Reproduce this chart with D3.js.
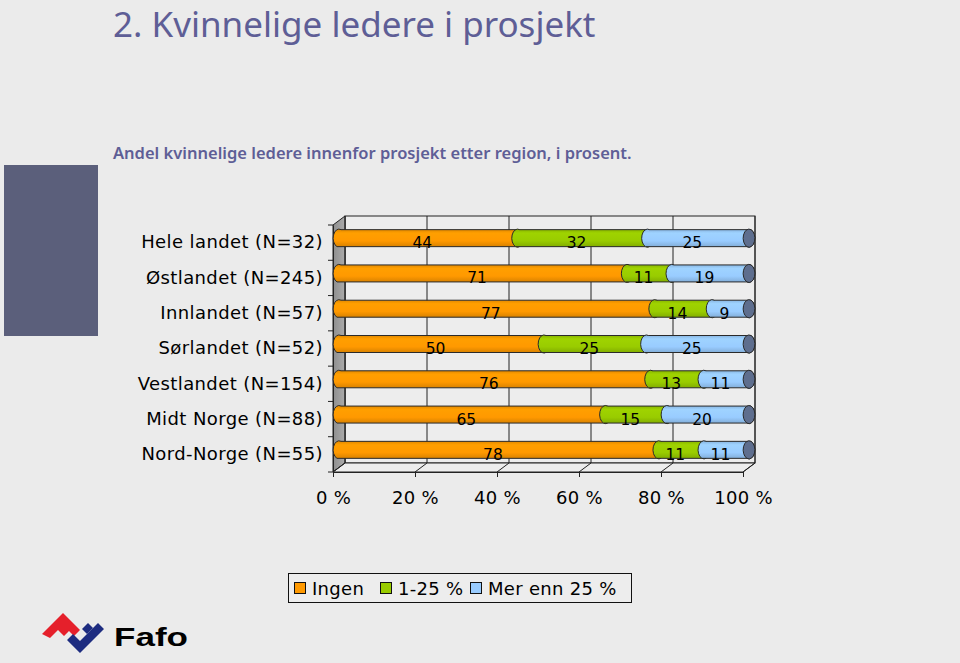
<!DOCTYPE html>
<html>
<head>
<meta charset="utf-8">
<script src="https://cdn.jsdelivr.net/npm/d3@7"></script>
<style>
  html, body { margin: 0; padding: 0; background: #EBEBEB; }
  svg { display: block; }
</style>
</head>
<body>
<svg id="chart" width="960" height="663"></svg>
<script>
// ---- data ----
const categories = ["Hele landet (N=32)", "Østlandet (N=245)", "Innlandet (N=57)", "Sørlandet (N=52)", "Vestlandet (N=154)", "Midt Norge (N=88)", "Nord-Norge (N=55)"];
const seriesNames = ["Ingen", "1-25 %", "Mer enn 25 %"];
const ingen = [44, 71, 77, 50, 76, 65, 78];
const lav = [32, 11, 14, 25, 13, 15, 11];
const hoy = [25, 19, 9, 25, 11, 20, 11];
const tickValues = [0, 20, 40, 60, 80, 100];
const tickLabels = ["0 %", "20 %", "40 %", "60 %", "80 %", "100 %"];
const colors = ["#FF9900", "#99CC00", "#99CCFF"];

const svg = d3.select("#chart");
const W = 960, H = 663;
const defs = svg.append("defs");

// background & decorations
svg.append("rect").attr("width", W).attr("height", H).attr("fill", "#EBEBEB");
svg.append("rect").attr("x", 4).attr("y", 165).attr("width", 94).attr("height", 171).attr("fill", "#5B5F7B");

// titles
svg.append("text").attr("x", 113).attr("y", 37)
  .attr("font-family", "'Noto Sans', 'Open Sans', sans-serif").attr("font-size", 35)
  .attr("fill", "#5E5E96").text("2. Kvinnelige ledere i prosjekt");
svg.append("text").attr("x", 113).attr("y", 159)
  .attr("font-family", "'Noto Sans', 'Open Sans', sans-serif").attr("font-size", 16.5).attr("font-weight", 600)
  .attr("fill", "#5E5E96").text("Andel kvinnelige ledere innenfor prosjekt etter region, i prosent.");

// ---- scales ----
const x = d3.scaleLinear().domain([0, 100]).range([333, 743]);
const y = d3.scaleBand().domain(categories).range([225, 472]).padding(0);
const dx = 12, dy = -9;
const x0 = x(0), x1 = x(100), yTop = y.range()[0], yBot = y.range()[1];

const g = svg.append("g");
// back wall
g.append("rect").attr("x", x0 + dx).attr("y", yTop + dy).attr("width", x1 - x0).attr("height", yBot - yTop)
  .attr("fill", "#EDEDED").attr("stroke", "#222").attr("stroke-width", 1);
// side wall
const sideGrad = defs.append("linearGradient").attr("id", "side").attr("x1", 0).attr("x2", 1);
sideGrad.append("stop").attr("offset", 0).attr("stop-color", "#8E8E8E");
sideGrad.append("stop").attr("offset", 1).attr("stop-color", "#ABABAB");
g.append("path").attr("d", `M${x0},${yTop} L${x0 + dx},${yTop + dy} L${x0 + dx},${yBot + dy} L${x0},${yBot} Z`)
  .attr("fill", "url(#side)").attr("stroke", "#222").attr("stroke-width", 1);
// floor
g.append("path").attr("d", `M${x0},${yBot} L${x0 + dx},${yBot + dy} L${x1 + dx},${yBot + dy} L${x1},${yBot} Z`)
  .attr("fill", "#EDEDED").attr("stroke", "#222").attr("stroke-width", 1);
// gridlines on back wall and floor
tickValues.forEach(v => {
  g.append("line").attr("x1", x(v) + dx).attr("x2", x(v) + dx).attr("y1", yTop + dy).attr("y2", yBot + dy)
    .attr("stroke", "#222").attr("stroke-width", 1);
  g.append("line").attr("x1", x(v)).attr("x2", x(v) + dx).attr("y1", yBot).attr("y2", yBot + dy)
    .attr("stroke", "#222").attr("stroke-width", 1);
});

// x axis
const xAxis = d3.axisBottom(x).tickValues(tickValues).tickFormat((d, i) => tickLabels[i]).tickSize(5).tickPadding(14);
const xa = svg.append("g").attr("transform", `translate(0,${yBot})`).call(xAxis);
xa.select(".domain").attr("stroke", "#222");
xa.selectAll(".tick line").attr("stroke", "#222");
xa.selectAll(".tick text").attr("font-family", "'DejaVu Sans', Verdana, sans-serif").attr("font-size", 18)
  .attr("letter-spacing", 0.3).attr("fill", "#000");

// y axis (labels)
const yAxis = d3.axisLeft(y).tickSize(0).tickPadding(10);
const ya = svg.append("g").attr("transform", `translate(${x0},0)`).call(yAxis);
ya.select(".domain").attr("stroke", "#222");
ya.selectAll(".tick text").attr("font-family", "'DejaVu Sans', Verdana, sans-serif").attr("font-size", 18)
  .attr("letter-spacing", 0.4).attr("fill", "#000");
// boundary ticks
const bounds = categories.map(c => y(c)).concat([yBot]);
svg.append("g").selectAll("line").data(bounds).join("line")
  .attr("x1", x0 - 5).attr("x2", x0).attr("y1", d => d).attr("y2", d => d)
  .attr("stroke", "#222");

// gradients for cylinders
colors.forEach((c, i) => {
  const gr = defs.append("linearGradient").attr("id", "cyl" + i).attr("x1", 0).attr("x2", 0).attr("y1", 0).attr("y2", 1);
  gr.append("stop").attr("offset", 0).attr("stop-color", d3.color(c).darker(0.4));
  gr.append("stop").attr("offset", 0.22).attr("stop-color", d3.color(c).brighter(0.1));
  gr.append("stop").attr("offset", 0.65).attr("stop-color", c);
  gr.append("stop").attr("offset", 1).attr("stop-color", d3.color(c).darker(0.5));
});

// bars
const rows = categories.map((c, i) => {
  const vals = [ingen[i], lav[i], hoy[i]];
  const tot = d3.sum(vals);
  let acc = 0;
  return vals.map((v, k) => {
    const s = acc / tot * 100; acc += v;
    const e = acc / tot * 100;
    return { cat: c, k, v, s, e };
  });
});
const rx = 5.5, ry = 8.5, sk = 2;
const barG = svg.append("g");
rows.forEach(segs => {
  const cy = y(segs[0].cat) + y.bandwidth() / 2 + dy / 2;
  const top = cy - ry, bot = cy + ry;
  segs.forEach(sg => {
    const a = x(sg.s) + dx / 2, b = x(sg.e) + dx / 2;
    const d = `M${a + sk},${top} L${b + sk},${top} A${rx},${ry} 0 0 1 ${b - sk},${bot} L${a - sk},${bot} A${rx},${ry} 0 0 1 ${a + sk},${top} Z`;
    barG.append("path").attr("d", d).attr("fill", `url(#cyl${sg.k})`).attr("stroke", "#2a2a2a").attr("stroke-width", 1);
  });
  const last = segs[segs.length - 1];
  const b = x(last.e) + dx / 2;
  barG.append("path")
    .attr("d", `M${b + sk},${top} A${rx},${ry} 0 0 1 ${b - sk},${bot} A${rx},${ry} 0 0 1 ${b + sk},${top} Z`)
    .attr("fill", "#5E6E8E").attr("stroke", "#2a2a2a").attr("stroke-width", 1);
});
// value labels
rows.forEach(segs => {
  const cyF = y(segs[0].cat) + y.bandwidth() / 2;
  segs.forEach(sg => {
    svg.append("text").attr("x", x((sg.s + sg.e) / 2)).attr("y", cyF + 5.5)
      .attr("text-anchor", "middle").attr("font-family", "'DejaVu Sans', Verdana, sans-serif")
      .attr("font-size", 15.5).attr("fill", "#000").text(sg.v);
  });
});

// legend
const lg = svg.append("g");
lg.append("rect").attr("x", 288.5).attr("y", 573.5).attr("width", 343).attr("height", 29)
  .attr("fill", "#EDEDED").attr("stroke", "#111").attr("stroke-width", 1);
const legX = [294, 380, 470];
seriesNames.forEach((n, i) => {
  lg.append("rect").attr("x", legX[i] + 0.5).attr("y", 582.5).attr("width", 11).attr("height", 11)
    .attr("fill", colors[i]).attr("stroke", "#111");
  lg.append("text").attr("x", legX[i] + 18).attr("y", 595)
    .attr("font-family", "'DejaVu Sans', Verdana, sans-serif").attr("font-size", 18)
    .attr("letter-spacing", 0.3).attr("fill", "#000").text(n);
});

// Fafo logo
const logo = svg.append("g");
logo.append("path").attr("d", "M42,634 L63,613 L80,630 L74,636 L69,631 L64,636 L58,630 L50,638 Z").attr("fill", "#E5202B");
logo.append("path").attr("d", "M67,640 L73,634 L80,641 L98,623 L104,629 L80,653 Z").attr("fill", "#1D2C80");
logo.append("path").attr("d", "M82,629 L88,623 L93,628 L87,634 Z").attr("fill", "#1D2C80");
logo.append("text").attr("x", 114).attr("y", 646).attr("font-family", "'Liberation Sans', Arial, sans-serif")
  .attr("font-weight", 700).attr("font-size", 26).attr("textLength", 74).attr("lengthAdjust", "spacingAndGlyphs")
  .attr("fill", "#000").text("Fafo");
</script>
</body>
</html>
